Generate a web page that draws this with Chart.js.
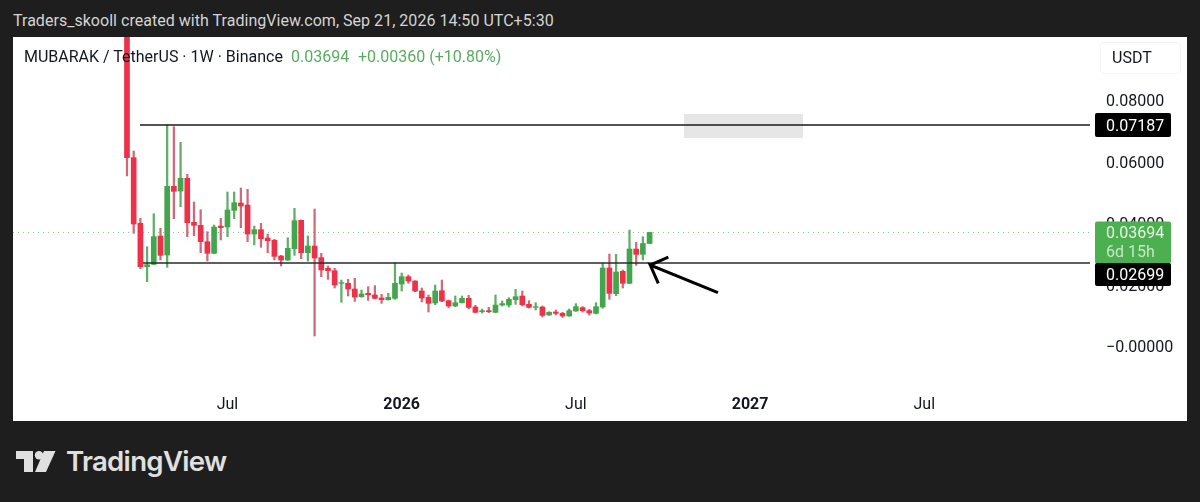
<!DOCTYPE html>
<html>
<head>
<meta charset="utf-8">
<title>MUBARAK / TetherUS</title>
<script src="https://cdn.jsdelivr.net/npm/chart.js@4"></script>
<style>
	html, body { margin: 0; padding: 0; width: 1200px; height: 502px; overflow: hidden; background: #1e1e1e; font-family: Roboto, sans-serif; }
	#cabecalho { position: absolute; left: 13px; top: 11px; font-size: 16px; line-height: 20px; letter-spacing: 0.03px; color: #d4d4d4; white-space: nowrap; }
	#painel { position: absolute; left: 13px; top: 37px; width: 1174px; height: 384px; background: #fff; }
	#grafico { position: absolute; left: 0; top: 0; }
	.titulo { position: absolute; top: 10px; font-size: 16px; line-height: 20px; white-space: nowrap; color: #131722; }
	.verde { color: #5bab60; }
	#moeda { position: absolute; left: 1087px; top: 5px; width: 81px; height: 32px; box-sizing: border-box; border: 1px solid #f4f4f4; border-radius: 4px; font-size: 16px; line-height: 30px; padding-left: 11px; color: #131722; }
	#logo { position: absolute; left: 16px; top: 451px; }
	#marca { position: absolute; left: 66px; top: 444px; font-family: Inter, sans-serif; font-weight: 600; font-size: 27.6px; line-height: 34px; letter-spacing: -0.7px; color: #e0e0e0; }
</style>
</head>
<body>
<div id="cabecalho">Traders_skooll created with TradingView.com, Sep 21, 2026 14:50 UTC+5:30</div>
<div id="painel">
	<canvas id="grafico" width="1174" height="384"></canvas>
	<div class="titulo" style="left:11px">MUBARAK / TetherUS · 1W · Binance</div>
	<div class="titulo verde" style="left:278px">0.03694</div>
	<div class="titulo verde" style="left:345px">+0.00360 (+10.80%)</div>
	<div id="moeda">USDT</div>
</div>
<svg id="logo" width="40" height="22" viewBox="0 0 40 22">
	<path d="M0 0H17V21H8V8H0Z" fill="#e0e0e0"/>
	<circle cx="23" cy="4.2" r="4.2" fill="#e0e0e0"/>
	<path d="M28 0H39.5L30 21H19Z" fill="#e0e0e0"/>
</svg>
<div id="marca">TradingView</div>

<script>
	var abertura = [0.13000, 0.06125, 0.03989, 0.02580, 0.02656, 0.03577, 0.02959, 0.05192, 0.05041, 0.05453,
		0.04022, 0.03924, 0.03393, 0.03014, 0.03902, 0.03870, 0.04412, 0.04650, 0.04585, 0.03642,
		0.03783, 0.03512, 0.03436, 0.02927, 0.02797, 0.03165, 0.04087, 0.03035, 0.03252, 0.02873,
		0.02526, 0.02450, 0.02038, 0.02038, 0.01854, 0.01604, 0.01713, 0.01659, 0.01561, 0.01507,
		0.01550, 0.02016, 0.02255, 0.02114, 0.01789, 0.01583, 0.01398, 0.01799, 0.01474, 0.01301,
		0.01409, 0.01550, 0.01268, 0.01117, 0.01149, 0.01095, 0.01333, 0.01333, 0.01507, 0.01626,
		0.01355, 0.01257, 0.01268, 0.01008, 0.01106, 0.01062, 0.00976, 0.01138, 0.01247, 0.01149,
		0.01062, 0.01268, 0.02537, 0.01702, 0.02428, 0.02038, 0.03154, 0.02981, 0.03334];
	var maximas = [0.14000, 0.06341, 0.04152, 0.03230, 0.04303, 0.03827, 0.07187, 0.07133, 0.06623, 0.05583,
		0.04683, 0.04434, 0.03718, 0.03935, 0.04152, 0.05008, 0.05008, 0.05138, 0.05095, 0.03902,
		0.03989, 0.03642, 0.03469, 0.02948, 0.03523, 0.04477, 0.04100, 0.03577, 0.04455, 0.03014,
		0.02602, 0.02526, 0.02146, 0.02168, 0.02201, 0.01821, 0.01930, 0.01962, 0.01680, 0.01713,
		0.02710, 0.02374, 0.02309, 0.02125, 0.01886, 0.01659, 0.01984, 0.02146, 0.01496, 0.01626,
		0.01626, 0.01648, 0.01322, 0.01203, 0.01257, 0.01659, 0.01463, 0.01572, 0.01843, 0.01789,
		0.01474, 0.01409, 0.01301, 0.01117, 0.01171, 0.01095, 0.01203, 0.01377, 0.01279, 0.01192,
		0.01409, 0.02688, 0.02992, 0.02981, 0.02472, 0.03772, 0.03371, 0.03556, 0.03694];
	var minimas = [0.05528, 0.03664, 0.02515, 0.02092, 0.02640, 0.02797, 0.02558, 0.04141, 0.04531, 0.03556,
		0.03588, 0.03035, 0.02764, 0.03000, 0.03447, 0.03556, 0.04141, 0.03848, 0.03393, 0.03285,
		0.03209, 0.03035, 0.02797, 0.02602, 0.02780, 0.02948, 0.02840, 0.02764, 0.00325, 0.02255,
		0.02168, 0.01886, 0.01420, 0.01626, 0.01453, 0.01583, 0.01485, 0.01539, 0.01388, 0.01490,
		0.01518, 0.01789, 0.02038, 0.01767, 0.01431, 0.01106, 0.01344, 0.01442, 0.01247, 0.01279,
		0.01398, 0.01214, 0.01084, 0.01073, 0.01084, 0.01084, 0.01301, 0.01268, 0.01355, 0.01301,
		0.01236, 0.01171, 0.00943, 0.00997, 0.01008, 0.00932, 0.00965, 0.01127, 0.01106, 0.01008,
		0.01041, 0.01225, 0.01518, 0.01637, 0.01886, 0.02027, 0.02623, 0.02797, 0.03334];
	var fechamento = [0.06125, 0.03967, 0.02580, 0.02645, 0.03556, 0.02948, 0.05192, 0.05030, 0.05453, 0.04011,
		0.03924, 0.03393, 0.03014, 0.03870, 0.03848, 0.04423, 0.04661, 0.04553, 0.03642, 0.03783,
		0.03490, 0.03425, 0.02916, 0.02797, 0.03176, 0.04076, 0.03035, 0.03252, 0.02862, 0.02472,
		0.02450, 0.01984, 0.02060, 0.01854, 0.01593, 0.01691, 0.01669, 0.01550, 0.01507, 0.01583,
		0.02038, 0.02255, 0.02114, 0.01789, 0.01561, 0.01388, 0.01789, 0.01463, 0.01301, 0.01409,
		0.01550, 0.01257, 0.01095, 0.01149, 0.01117, 0.01333, 0.01377, 0.01518, 0.01604, 0.01344,
		0.01257, 0.01279, 0.00997, 0.01095, 0.01062, 0.00976, 0.01149, 0.01279, 0.01149, 0.01073,
		0.01279, 0.02537, 0.01713, 0.02407, 0.02038, 0.03154, 0.02981, 0.03334, 0.03694];

	var semanasEixo = [15, 41, 67, 93, 119];
	var rotulosEixo = ['Jul', '2026', 'Jul', '2027', 'Jul'];
	var precosEixo = [0.08, 0.06, 0.04, 0.02, 0];
	var rotulosPreco = ['0.08000', '0.06000', '0.04000', '0.02000', '\u22120.00000'];

	var precoAtual = 0.03694;
	var resistencia = 0.07187;
	var suporte = 0.02699;
	var caixaSemanas = [83.1, 100.9];
	var caixaPrecos = [0.07545, 0.06764];
	var setaSemanas = [80.8, 78.1, 79.3, 78.1, 88.2];
	var setaPrecos = [0.02889, 0.02634, 0.02038, 0.02634, 0.01735];

	var semanaMin = -17.01;
	var semanaMax = 143.73;

	var corpos = [], pavios = [], coresCorpo = [], coresPavio = [], seta = [];
	for (var i = 0; i < abertura.length; i++) {
		var sobe = fechamento[i] >= abertura[i];
		corpos.push({x: i, y: [abertura[i], fechamento[i]]});
		pavios.push({x: i, y: [minimas[i], maximas[i]]});
		coresCorpo.push(sobe ? '#43a64c' : '#ee3148');
		coresPavio.push(sobe ? '#62ad68' : '#cf6a78');
	}
	for (var s = 0; s < setaSemanas.length; s++) {
		seta.push({x: setaSemanas[s], y: setaPrecos[s]});
	}

	var linha = function (pontos, cor, largura, tracejado, ordem) {
		return {
			type: 'line',
			data: pontos,
			borderColor: cor,
			borderWidth: largura,
			borderDash: tracejado,
			pointRadius: 0,
			tension: 0,
			order: ordem
		};
	};

	var caixa = linha([{x: caixaSemanas[0], y: caixaPrecos[0]}, {x: caixaSemanas[1], y: caixaPrecos[0]}], 'rgba(0,0,0,0)', 0, [], 6);
	caixa.fill = {value: caixaPrecos[1]};
	caixa.backgroundColor = '#e6e6e6';

	// etiquetas do eixo de precos, por cima dos rotulos
	var etiquetas = {
		id: 'etiquetas',
		afterDraw: function (chart) {
			var ctx = chart.ctx;
			var y = chart.scales.y;
			var esq = 1082, larg = 76;
			ctx.save();
			ctx.textBaseline = 'middle';
			ctx.textAlign = 'left';
			ctx.font = '16px Roboto';

			var yAtual = y.getPixelForValue(precoAtual);
			ctx.fillStyle = '#4caf50';
			ctx.beginPath();
			ctx.roundRect(esq, yAtual - 11, larg, 42, 2);
			ctx.fill();
			ctx.fillStyle = '#e8f5e9';
			ctx.fillText(precoAtual.toFixed(5), esq + 11, yAtual + 2);
			ctx.fillStyle = '#c8e6c9';
			ctx.fillText('6d 15h', esq + 11, yAtual + 21);

			var yRes = y.getPixelForValue(resistencia);
			ctx.fillStyle = '#000';
			ctx.beginPath();
			ctx.roundRect(esq, yRes - 12, larg, 24, 2);
			ctx.fill();
			ctx.fillStyle = '#fff';
			ctx.fillText(resistencia.toFixed(5), esq + 11, yRes + 2);

			var ySup = y.getPixelForValue(suporte);
			ctx.fillStyle = '#000';
			ctx.beginPath();
			ctx.roundRect(esq, ySup, larg, 23, 2);
			ctx.fill();
			ctx.fillStyle = '#fff';
			ctx.fillText(suporte.toFixed(5), esq + 11, ySup + 13);
			ctx.restore();
		}
	};

	new Chart(document.getElementById('grafico'), {
		type: 'bar',
		data: {
			datasets: [
				caixa,
				linha([{x: semanaMin, y: precoAtual}, {x: semanaMax, y: precoAtual}], '#7cc08a', 1, [1, 4], 5),
				{data: pavios, backgroundColor: coresPavio, barThickness: 1.6, grouped: false, order: 4},
				{data: corpos, backgroundColor: coresCorpo, barThickness: 5, grouped: false, order: 3},
				linha([{x: 1.94, y: resistencia}, {x: semanaMax, y: resistencia}], '#1a1a1a', 1.5, [], 2),
				linha([{x: 2.4, y: suporte}, {x: semanaMax, y: suporte}], '#2a2a2a', 1.5, [], 2),
				linha(seta, '#000', 3, [], 1)
			]
		},
		options: {
			responsive: false,
			animation: false,
			layout: {padding: 0},
			plugins: {legend: {display: false}, tooltip: {enabled: false}},
			scales: {
				x: {
					type: 'linear',
					offset: false,
					min: semanaMin,
					max: semanaMax,
					grid: {display: false, drawTicks: false},
					border: {display: false},
					afterBuildTicks: function (eixo) {
						eixo.ticks = semanasEixo.map(function (v) { return {value: v}; });
					},
					afterFit: function (eixo) {
						eixo.height = 36;
						eixo.paddingLeft = 0;
						eixo.paddingRight = 0;
					},
					ticks: {
						autoSkip: false,
						maxRotation: 0,
						padding: 10,
						color: '#131722',
						font: function (ctx) {
							var ano = rotulosEixo[ctx.index] && rotulosEixo[ctx.index].indexOf('20') === 0;
							return {family: 'Roboto', size: 16, weight: ano ? 'bold' : 'normal'};
						},
						callback: function (v, idx) { return rotulosEixo[idx]; }
					}
				},
				y: {
					position: 'right',
					min: -0.01268,
					max: 0.10049,
					grid: {display: false, drawTicks: false},
					border: {display: false},
					afterBuildTicks: function (eixo) {
						eixo.ticks = precosEixo.map(function (v) { return {value: v}; });
					},
					afterFit: function (eixo) {
						eixo.width = 97;
						eixo.paddingTop = 0;
						eixo.paddingBottom = 0;
					},
					ticks: {
						autoSkip: false,
						crossAlign: 'near',
						padding: 16,
						color: '#131722',
						// linha vazia + lineHeight pequeno desce o rotulo 2px
						font: {family: 'Roboto', size: 16, lineHeight: '4px'},
						callback: function (v, idx) { return ['', rotulosPreco[idx]]; }
					}
				}
			}
		},
		plugins: [etiquetas]
	});
</script>
</body>
</html>
